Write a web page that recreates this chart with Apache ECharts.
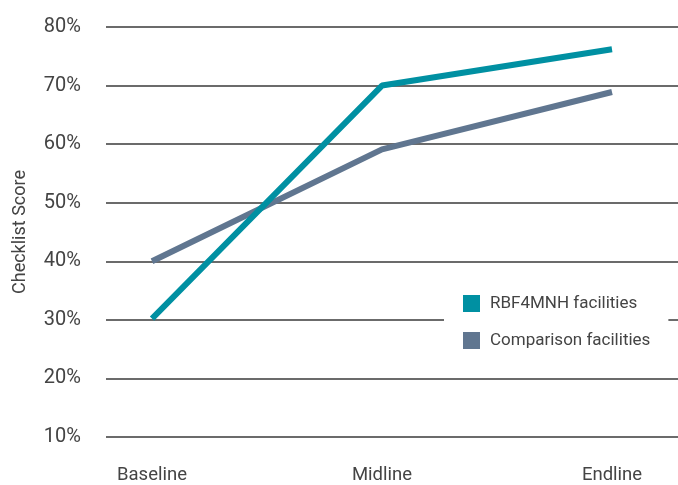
<!DOCTYPE html>
<html>
<head>
<meta charset="utf-8">
<script src="https://cdn.jsdelivr.net/npm/echarts@6/dist/echarts.min.js"></script>
<style>
  html, body { margin: 0; padding: 0; background: #fff; }
  #chart { width: 678px; height: 485px; }
</style>
</head>
<body>
<div id="chart"></div>
<script>
var categories = ['Baseline', 'Midline', 'Endline']
var rbfValues = [30.2, 70, 76.2]
var comparisonValues = [40, 59.1, 68.9]
var seriesNames = ['RBF4MNH facilities', 'Comparison facilities']
var yTicks = [10, 20, 30, 40, 50, 60, 70, 80]

var colors = ['#0090a2', '#607690']
var font = 'Roboto, sans-serif'

var chart = echarts.init(document.getElementById('chart'))
var option = {
    textStyle: { fontFamily: font },
    grid: [
        // wide grid only for the gridlines and y labels
        { left: 106, right: 0, top: 27, bottom: 48 },
        // inner grid where the points sit
        { left: 152, right: 66, top: 27, bottom: 48 }
    ],
    legend: {
        orient: 'vertical',
        left: 444,
        top: 286,
        backgroundColor: '#fff',
        padding: [9, 18, 9, 19],
        itemGap: 20,
        itemWidth: 17,
        itemHeight: 17,
        icon: 'rect',
        textStyle: { color: '#444', fontSize: 17, fontFamily: font, padding: [0, 0, 0, 5] },
        data: seriesNames
    },
    xAxis: [{
        gridIndex: 0,
        type: 'value',
        min: 0,
        max: 1,
        show: false
    }, {
        gridIndex: 1,
        type: 'category',
        boundaryGap: false,
        data: categories,
        axisLine: { show: false },
        axisTick: { show: false },
        splitLine: { show: false },
        axisLabel: {
            color: '#444',
            fontSize: 18.5,
            fontFamily: font,
            margin: 29
        }
    }],
    yAxis: [{
        gridIndex: 0,
        type: 'value',
        min: yTicks[0],
        max: yTicks[yTicks.length - 1],
        interval: 10,
        name: 'Checklist Score',
        nameLocation: 'middle',
        nameGap: 77,
        nameTextStyle: { color: '#444', fontSize: 18, fontFamily: font },
        axisLine: { show: false },
        axisTick: { show: false },
        splitLine: { show: true, lineStyle: { color: '#3a3a3a', width: 1.5 } },
        axisLabel: {
            color: '#444',
            fontSize: 20,
            fontFamily: font,
            margin: 25,
            formatter: '{value}%'
        }
    }, {
        gridIndex: 1,
        type: 'value',
        min: yTicks[0],
        max: yTicks[yTicks.length - 1],
        show: false
    }],
    series: [
        {
            name: seriesNames[0],
            type: 'line',
            xAxisIndex: 1,
            yAxisIndex: 1,
            data: rbfValues,
            symbol: 'none',
            color: colors[0],
            lineStyle: { width: 6, color: colors[0] },
            z: 3
        },
        {
            name: seriesNames[1],
            type: 'line',
            xAxisIndex: 1,
            yAxisIndex: 1,
            data: comparisonValues,
            symbol: 'none',
            color: colors[1],
            lineStyle: { width: 6, color: colors[1] },
            z: 2
        }
    ]
}
chart.setOption(option)
</script>
</body>
</html>
